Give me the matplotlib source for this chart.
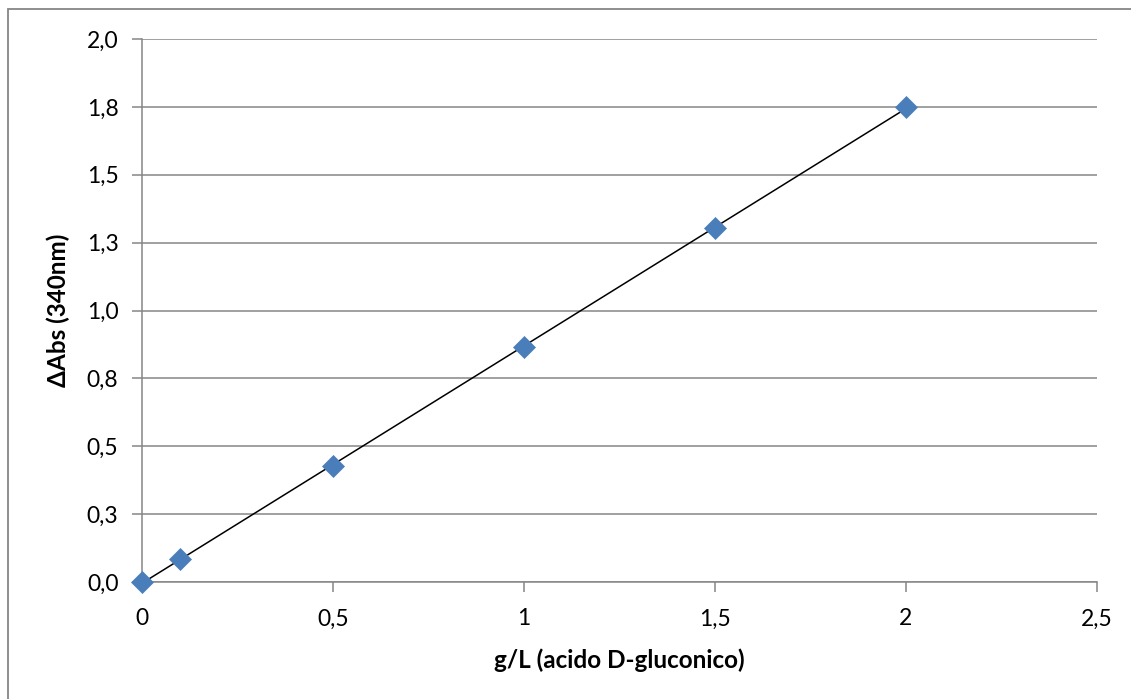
import numpy as np
import matplotlib.pyplot as plt
from matplotlib.patches import Rectangle
from matplotlib.ticker import FuncFormatter

plt.rcParams['font.family'] = ['Lato', 'DejaVu Sans']

# dati
conc = [0, 0.1, 0.5, 1.0, 1.5, 2.0]
dabs = [0.0, 0.085, 0.427, 0.866, 1.304, 1.749]
x_ticks = [0, 0.5, 1, 1.5, 2, 2.5]
y_ticks = [0, 0.25, 0.5, 0.75, 1.0, 1.25, 1.5, 1.75, 2.0]

grigio = '#868686'

fig = plt.figure(figsize=(11.31, 6.99), dpi=100)
ax = fig.add_axes([142/1131, 117/699, (1097-142)/1131, (582-39)/699])

# bordo esterno
fig.patches.append(Rectangle((8/1131, -0.05), 1.2, (699-9)/699 + 0.05,
                             transform=fig.transFigure, fill=False,
                             edgecolor=grigio, linewidth=1.3))

# linea di tendenza
m, q = np.polyfit(conc, dabs, 1)
xl = np.array([min(conc), max(conc)])
ax.plot(xl, m*xl + q, color='black', linewidth=1.1, zorder=3)

ax.plot(conc, dabs, linestyle='none', marker='D', markersize=11,
        color='#4A7EBB', markeredgecolor='#4A7EBB', markeredgewidth=0.5,
        zorder=4, clip_on=False)

ax.set_xlim(0, 2.5)
ax.set_ylim(0, 2.0)
ax.set_xticks(x_ticks)
ax.set_yticks(y_ticks)

def fmt_x(v, pos):
    return ('%g' % v).replace('.', ',')

def fmt_y(v, pos):
    s = '%.1f' % (np.floor(v*10 + 0.5)/10)
    return s.replace('.', ',')

ax.xaxis.set_major_formatter(FuncFormatter(fmt_x))
ax.yaxis.set_major_formatter(FuncFormatter(fmt_y))

ax.yaxis.grid(True, color=grigio, linewidth=1.1)
ax.set_axisbelow(True)
for s in ['top', 'right']:
    ax.spines[s].set_visible(False)
for s in ['left', 'bottom']:
    ax.spines[s].set_color(grigio)
    ax.spines[s].set_linewidth(1.1)

ax.tick_params(axis='both', direction='out', length=7, width=1.1, color=grigio,
               labelsize=16.5, labelcolor='black')
ax.tick_params(axis='x', pad=12)
ax.tick_params(axis='y', pad=10)

ax.set_xlabel('g/L (acido D-gluconico)', fontsize=17.5, fontweight='bold', labelpad=14)
ax.set_ylabel('\u0394Abs (340nm)', fontsize=17.5, fontweight='bold', labelpad=12)

fig.savefig('out.png', dpi=100)
